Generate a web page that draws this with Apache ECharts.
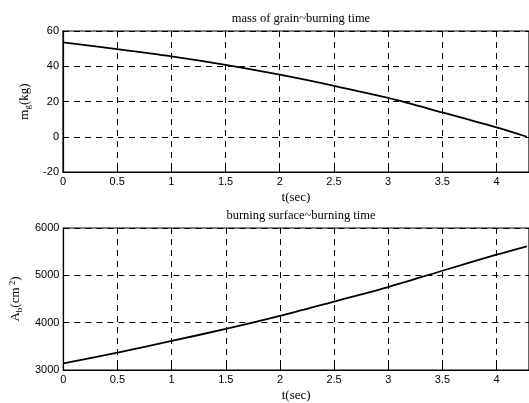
<!DOCTYPE html>
<html><head><meta charset="utf-8">
<script src="https://cdn.jsdelivr.net/npm/echarts@6/dist/echarts.min.js"></script>
<style>html,body{margin:0;padding:0;background:#fff}#c{width:529px;height:403px}</style>
</head><body><div id="c"></div>
<script>
const tValues = [0, 0.5, 1, 1.5, 2, 2.5, 3, 3.5, 4, 4.28];
const massValues = [53.5, 49.7, 45.6, 40.8, 35.2, 28.9, 22.0, 13.8, 5.3, 0];
const areaValues = [3141, 3366, 3614, 3868, 4144, 4447, 4752, 5097, 5436, 5614];
const xTicks = [0, 0.5, 1, 1.5, 2, 2.5, 3, 3.5, 4];
const massTicks = [-20, 0, 20, 40, 60];
const areaTicks = [3000, 4000, 5000, 6000];
const titles = ['mass of grain~burning time', 'burning surface~burning time'];
const xName = 't(sec)';

const serif = '"Liberation Serif", "Times New Roman", serif';
const sans = '"Liberation Sans", Arial, sans-serif';
const chart = echarts.init(document.getElementById('c'), null, {renderer: 'canvas'});

const gridBase = {left: 63, width: 467.6, show: true, borderColor: '#000', borderWidth: 1.2, backgroundColor: 'transparent'};
const dash = {show: true, lineStyle: {color: '#000', type: [6, 5], width: 1}};

function xAxis(gi) {
  return {
    type: 'value', gridIndex: gi, min: 0, max: 4.3, interval: 0.5,
    axisLine: {show: true, onZero: false, lineStyle: {color: '#000', width: 1.2}},
    axisTick: {show: true, inside: true, length: 4, lineStyle: {color: '#000'}},
    axisLabel: {color: '#000', fontFamily: sans, fontSize: 11, margin: 4, showMaxLabel: false,
      formatter: v => xTicks.includes(v) ? String(v) : ''},
    splitLine: dash,
    name: xName, nameLocation: 'middle', nameGap: 19,
    nameTextStyle: {color: '#000', fontFamily: serif, fontSize: 13}
  };
}
function yAxis(gi, ticks, rich, name) {
  return {
    type: 'value', gridIndex: gi, min: ticks[0], max: ticks[ticks.length - 1],
    interval: ticks[1] - ticks[0],
    axisLine: {show: true, lineStyle: {color: '#000', width: 1.2}},
    axisTick: {show: true, inside: true, length: 4, lineStyle: {color: '#000'}},
    axisLabel: {color: '#000', fontFamily: sans, fontSize: 11, margin: 4,
      formatter: v => String(v)},
    splitLine: dash,
    name: name, nameLocation: 'middle', nameRotate: 90,
    nameGap: gi === 0 ? 25 : 33,
    nameTextStyle: {color: '#000', fontFamily: serif, fontSize: 13, rich: rich}
  };
}
const richBase = {
  n: {fontFamily: serif, fontSize: 13, color: '#000'},
  sub: {fontFamily: serif, fontSize: 9, color: '#000', verticalAlign: 'bottom', padding: [7, 0, 0, 0]},
  sup: {fontFamily: serif, fontSize: 9, color: '#000', verticalAlign: 'top', padding: [0, 0, 6, 0]}
};

chart.setOption({
  animation: false,
  title: [
    {text: titles[0], left: 296, top: 7, textAlign: 'center',
      textStyle: {fontFamily: serif, fontSize: 12.5, fontWeight: 'normal', color: '#000'}},
    {text: titles[1], left: 296, top: 204, textAlign: 'center',
      textStyle: {fontFamily: serif, fontSize: 12.5, fontWeight: 'normal', color: '#000'}}
  ],
  grid: [
    Object.assign({top: 31, height: 141}, gridBase),
    Object.assign({top: 228, height: 142}, gridBase)
  ],
  xAxis: [xAxis(0), xAxis(1)],
  yAxis: [
    yAxis(0, massTicks, richBase, '{n|m}{sub|g}{n|(kg)}'),
    yAxis(1, areaTicks, richBase, '{n|A}{sub|b}{n|(cm}{sup| 2}{n|)}')
  ],
  series: [
    {type: 'line', xAxisIndex: 0, yAxisIndex: 0, data: tValues.map((t, i) => [t, massValues[i]]),
      smooth: 0.3, showSymbol: false, lineStyle: {color: '#000', width: 1.8}},
    {type: 'line', xAxisIndex: 1, yAxisIndex: 1, data: tValues.map((t, i) => [t, areaValues[i]]),
      smooth: 0.3, showSymbol: false, lineStyle: {color: '#000', width: 1.8}}
  ]
});
</script></body></html>
